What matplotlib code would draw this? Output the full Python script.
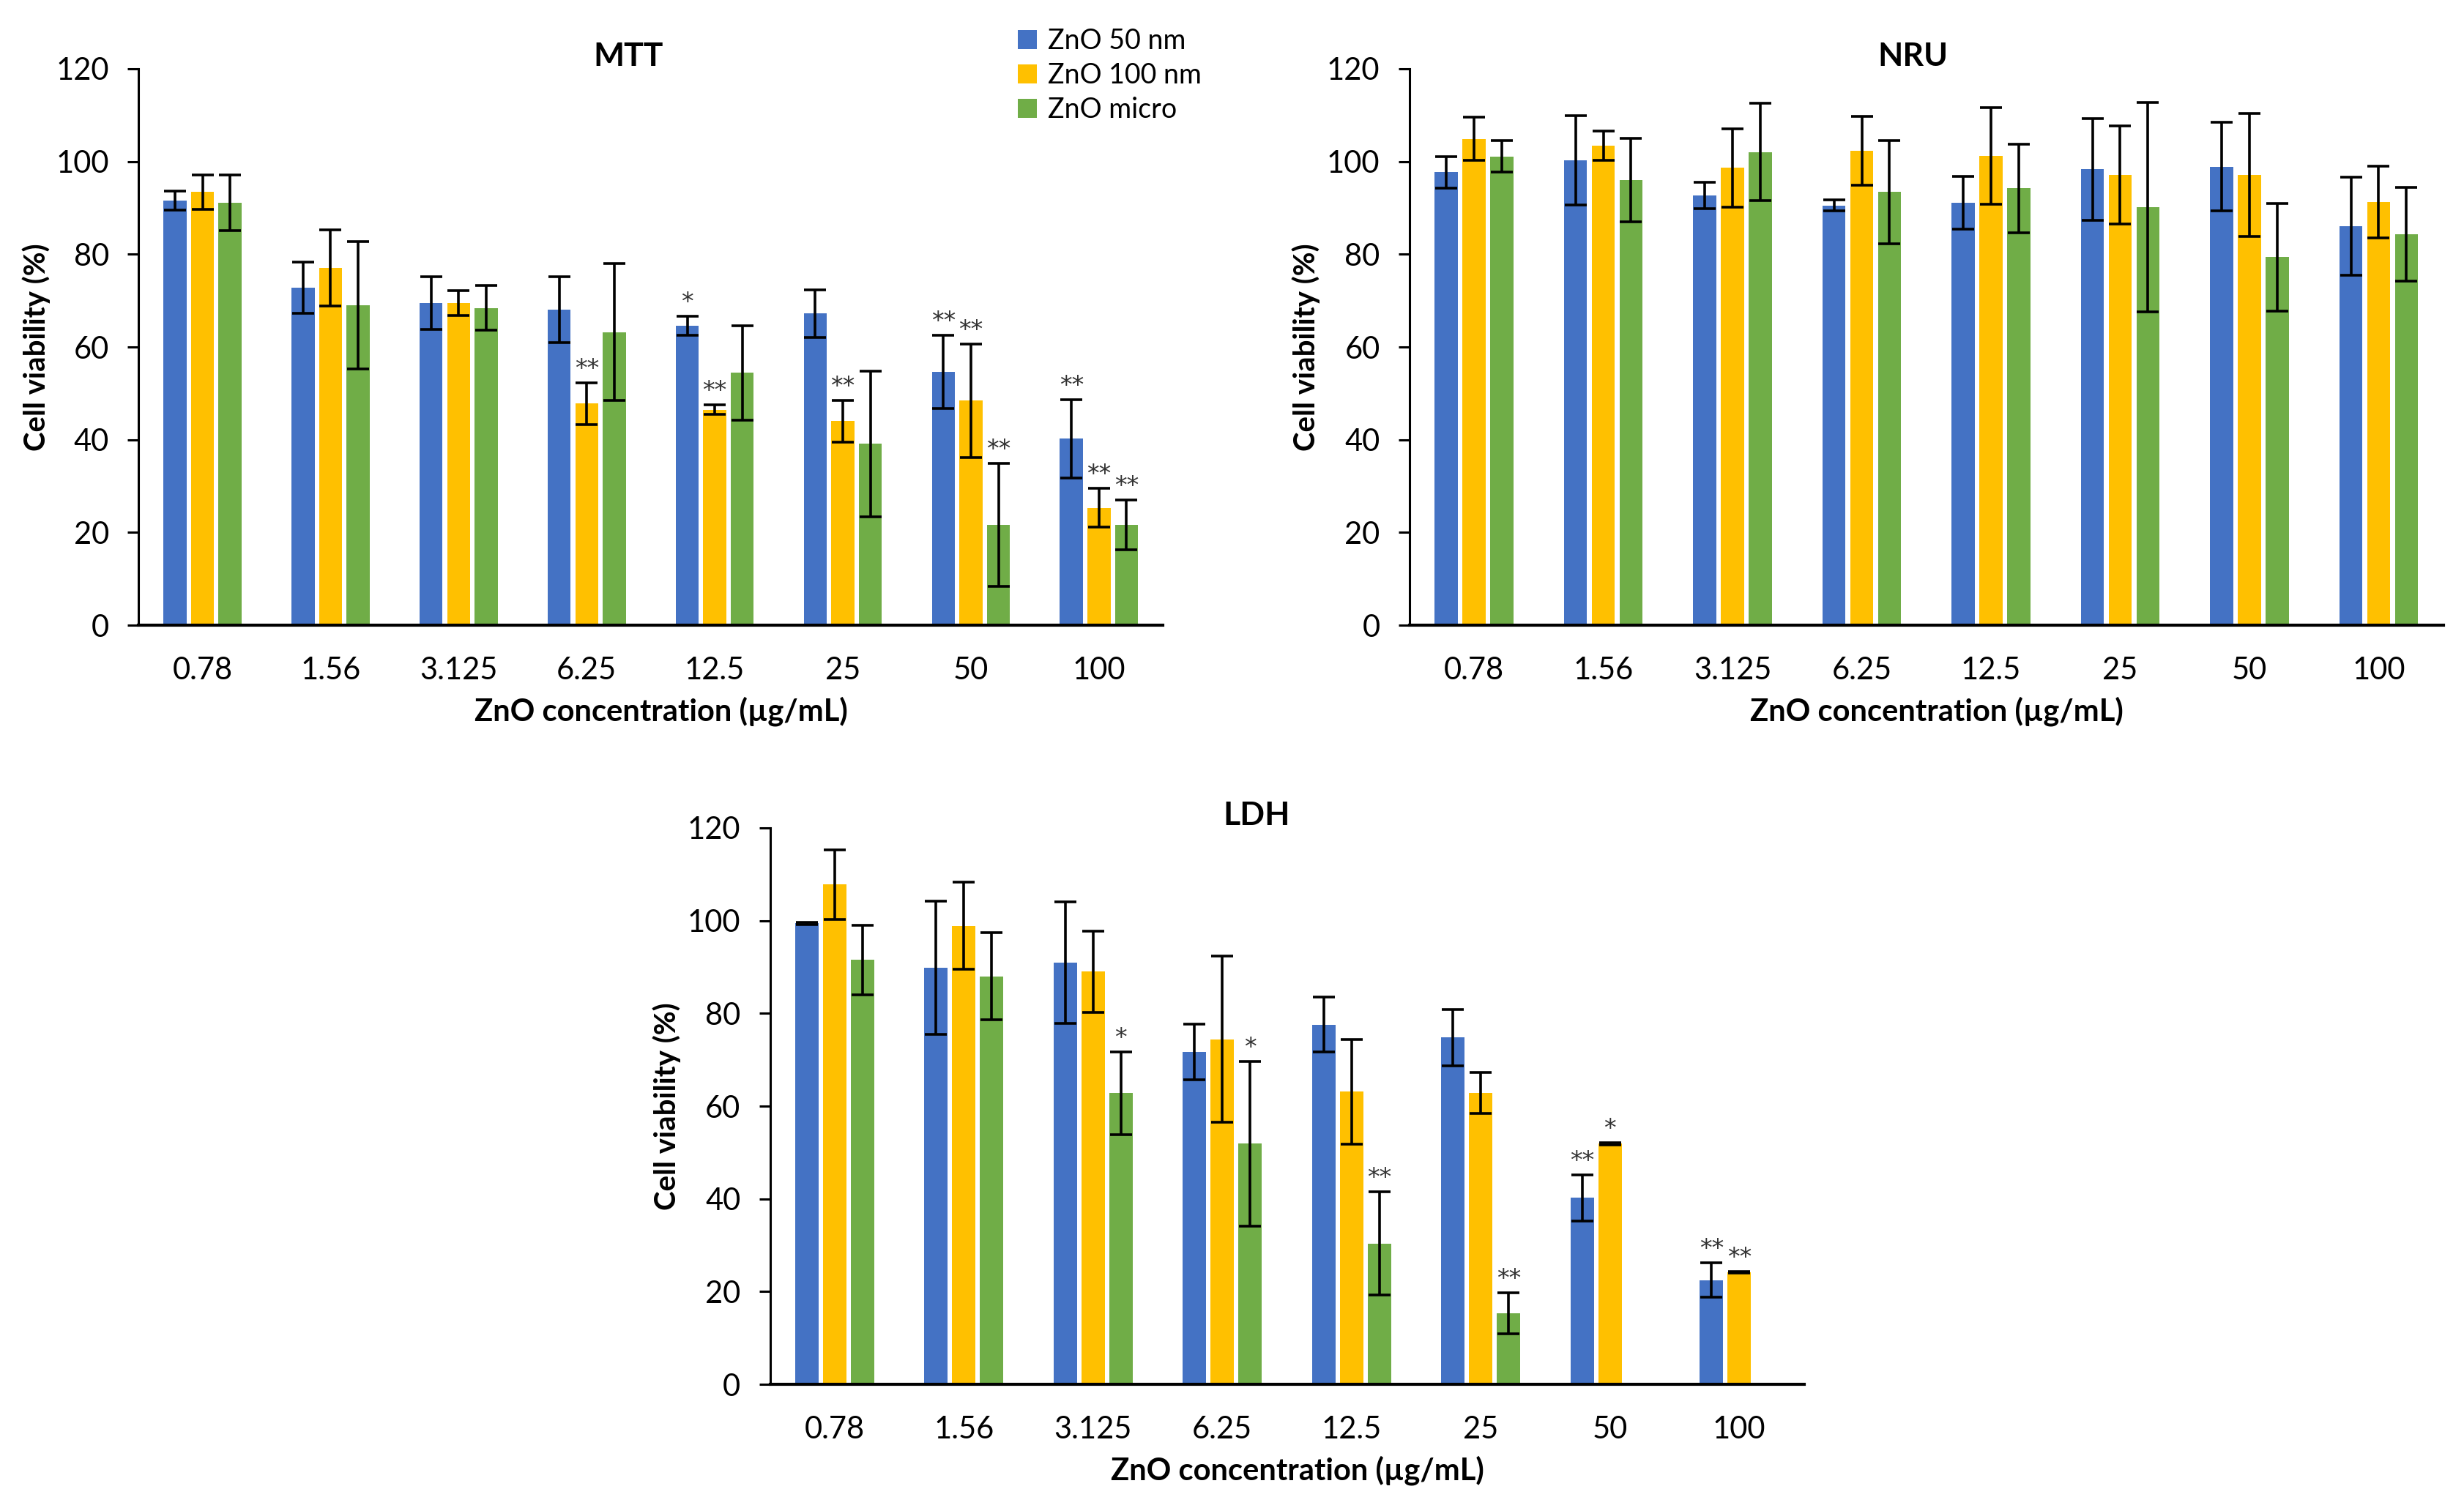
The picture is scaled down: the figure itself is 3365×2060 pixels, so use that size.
import numpy as np
import matplotlib.pyplot as plt

plt.rcParams['font.family'] = ['Lato', 'DejaVu Sans']

conc = ['0.78', '1.56', '3.125', '6.25', '12.5', '25', '50', '100']
series = ['ZnO 50 nm', 'ZnO 100 nm', 'ZnO micro']
colors = ['#4472C4', '#FFC000', '#70AD47']

# MTT
mtt_50 = [91.6, 72.8, 69.5, 68.1, 64.6, 67.2, 54.7, 40.2]
mtt_100 = [93.4, 77.1, 69.5, 47.8, 46.5, 44.0, 48.4, 25.3]
mtt_micro = [91.1, 69.0, 68.4, 63.2, 54.4, 39.1, 21.6, 21.6]
mtt_50_err = [2.0, 5.5, 5.7, 7.1, 2.0, 5.1, 7.9, 8.4]
mtt_100_err = [3.7, 8.2, 2.7, 4.5, 1.1, 4.5, 12.3, 4.2]
mtt_micro_err = [6.0, 13.7, 4.8, 14.8, 10.2, 15.7, 13.3, 5.4]
mtt_50_sig = ['', '', '', '', '*', '', '**', '**']
mtt_100_sig = ['', '', '', '**', '**', '**', '**', '**']
mtt_micro_sig = ['', '', '', '', '', '', '**', '**']

# NRU
nru_50 = [97.7, 100.3, 92.7, 90.5, 91.1, 98.3, 98.9, 86.1]
nru_100 = [104.9, 103.4, 98.6, 102.3, 101.2, 97.1, 97.1, 91.3]
nru_micro = [101.1, 96.0, 102.0, 93.4, 94.2, 90.2, 79.4, 84.3]
nru_50_err = [3.4, 9.6, 2.8, 1.2, 5.7, 11.0, 9.6, 10.6]
nru_100_err = [4.7, 3.1, 8.5, 7.4, 10.4, 10.5, 13.3, 7.7]
nru_micro_err = [3.4, 9.0, 10.5, 11.1, 9.5, 22.6, 11.6, 10.1]

# LDH (no micro data at 50 and 100)
ldh_50 = [99.4, 89.8, 90.9, 71.7, 77.6, 74.8, 40.2, 22.5]
ldh_100 = [107.8, 98.9, 89.0, 74.4, 63.1, 62.8, 51.9, 24.2]
ldh_micro = [91.5, 88.0, 62.8, 51.9, 30.4, 15.3, np.nan, np.nan]
ldh_50_err = [0.3, 14.4, 13.1, 6.0, 5.9, 6.1, 5.0, 3.7]
ldh_100_err = [7.5, 9.4, 8.8, 17.9, 11.3, 4.4, 0.2, 0.2]
ldh_micro_err = [7.5, 9.4, 8.9, 17.8, 11.2, 4.4, np.nan, np.nan]
ldh_50_sig = ['', '', '', '', '', '', '**', '**']
ldh_100_sig = ['', '', '', '', '', '', '*', '**']
ldh_micro_sig = ['', '', '*', '*', '**', '**', '', '']

fig = plt.figure(figsize=(33.65, 20.6), dpi=100)
ax_mtt = fig.add_axes([0.0562, 0.5854, 0.4158, 0.369])
ax_nru = fig.add_axes([0.5720, 0.5854, 0.4196, 0.369])
ax_ldh = fig.add_axes([0.3125, 0.0820, 0.4196, 0.369])


def panel(ax, title, tx, vals, errs, sigs):
    x = np.arange(len(conc))
    w = 0.18
    step = 0.215
    for i in range(3):
        xi = x + (i - 1) * step
        v = np.array(vals[i], dtype=float)
        e = np.array(errs[i], dtype=float)
        ax.bar(xi, v, w, color=colors[i], label=series[i], zorder=2)
        ax.errorbar(xi, v, yerr=e, fmt='none', ecolor='black',
                    elinewidth=2.6, capsize=11, capthick=2.6, zorder=3)
        if sigs is not None:
            for j, s in enumerate(sigs[i]):
                if s:
                    ax.text(xi[j], v[j] + e[j] + 0.3, s, ha='center',
                            va='bottom', fontsize=24, color='#333333',
                            family='DejaVu Sans')
    ax.set_xlim(-0.5, len(conc) - 0.5)
    ax.set_ylim(0, 120)
    ax.set_yticks(range(0, 121, 20))
    ax.set_xticks(x)
    ax.set_xticklabels(conc)
    ax.spines['top'].set_visible(False)
    ax.spines['right'].set_visible(False)
    ax.spines['left'].set_linewidth(2.2)
    ax.spines['bottom'].set_linewidth(3)
    ax.tick_params(axis='x', length=0, pad=31, labelsize=30)
    ax.tick_params(axis='y', length=11, width=2.2, pad=18, labelsize=30)
    ax.set_ylabel('Cell viability (%)', fontsize=29, fontweight='bold')
    ax.yaxis.set_label_coords(-0.086, 0.5)
    ax.set_xlabel('ZnO concentration (µg/mL)', fontsize=30, fontweight='bold')
    ax.xaxis.set_label_coords(0.51, -0.128)
    ax.text(tx, 1.022, title, transform=ax.transAxes, ha='center',
            va='center', fontsize=32, fontweight='bold')


panel(ax_mtt, 'MTT', 0.478, [mtt_50, mtt_100, mtt_micro],
      [mtt_50_err, mtt_100_err, mtt_micro_err],
      [mtt_50_sig, mtt_100_sig, mtt_micro_sig])
panel(ax_nru, 'NRU', 0.487, [nru_50, nru_100, nru_micro],
      [nru_50_err, nru_100_err, nru_micro_err], None)
panel(ax_ldh, 'LDH', 0.471, [ldh_50, ldh_100, ldh_micro],
      [ldh_50_err, ldh_100_err, ldh_micro_err],
      [ldh_50_sig, ldh_100_sig, ldh_micro_sig])

handles, labels = ax_mtt.get_legend_handles_labels()
fig.legend(handles, labels, loc='upper left', bbox_to_anchor=(0.403, 0.998),
           frameon=False, fontsize=27, handlelength=0.7, handleheight=0.7,
           handletextpad=0.4, labelspacing=0.3)

fig.savefig('out.png', dpi=100)
